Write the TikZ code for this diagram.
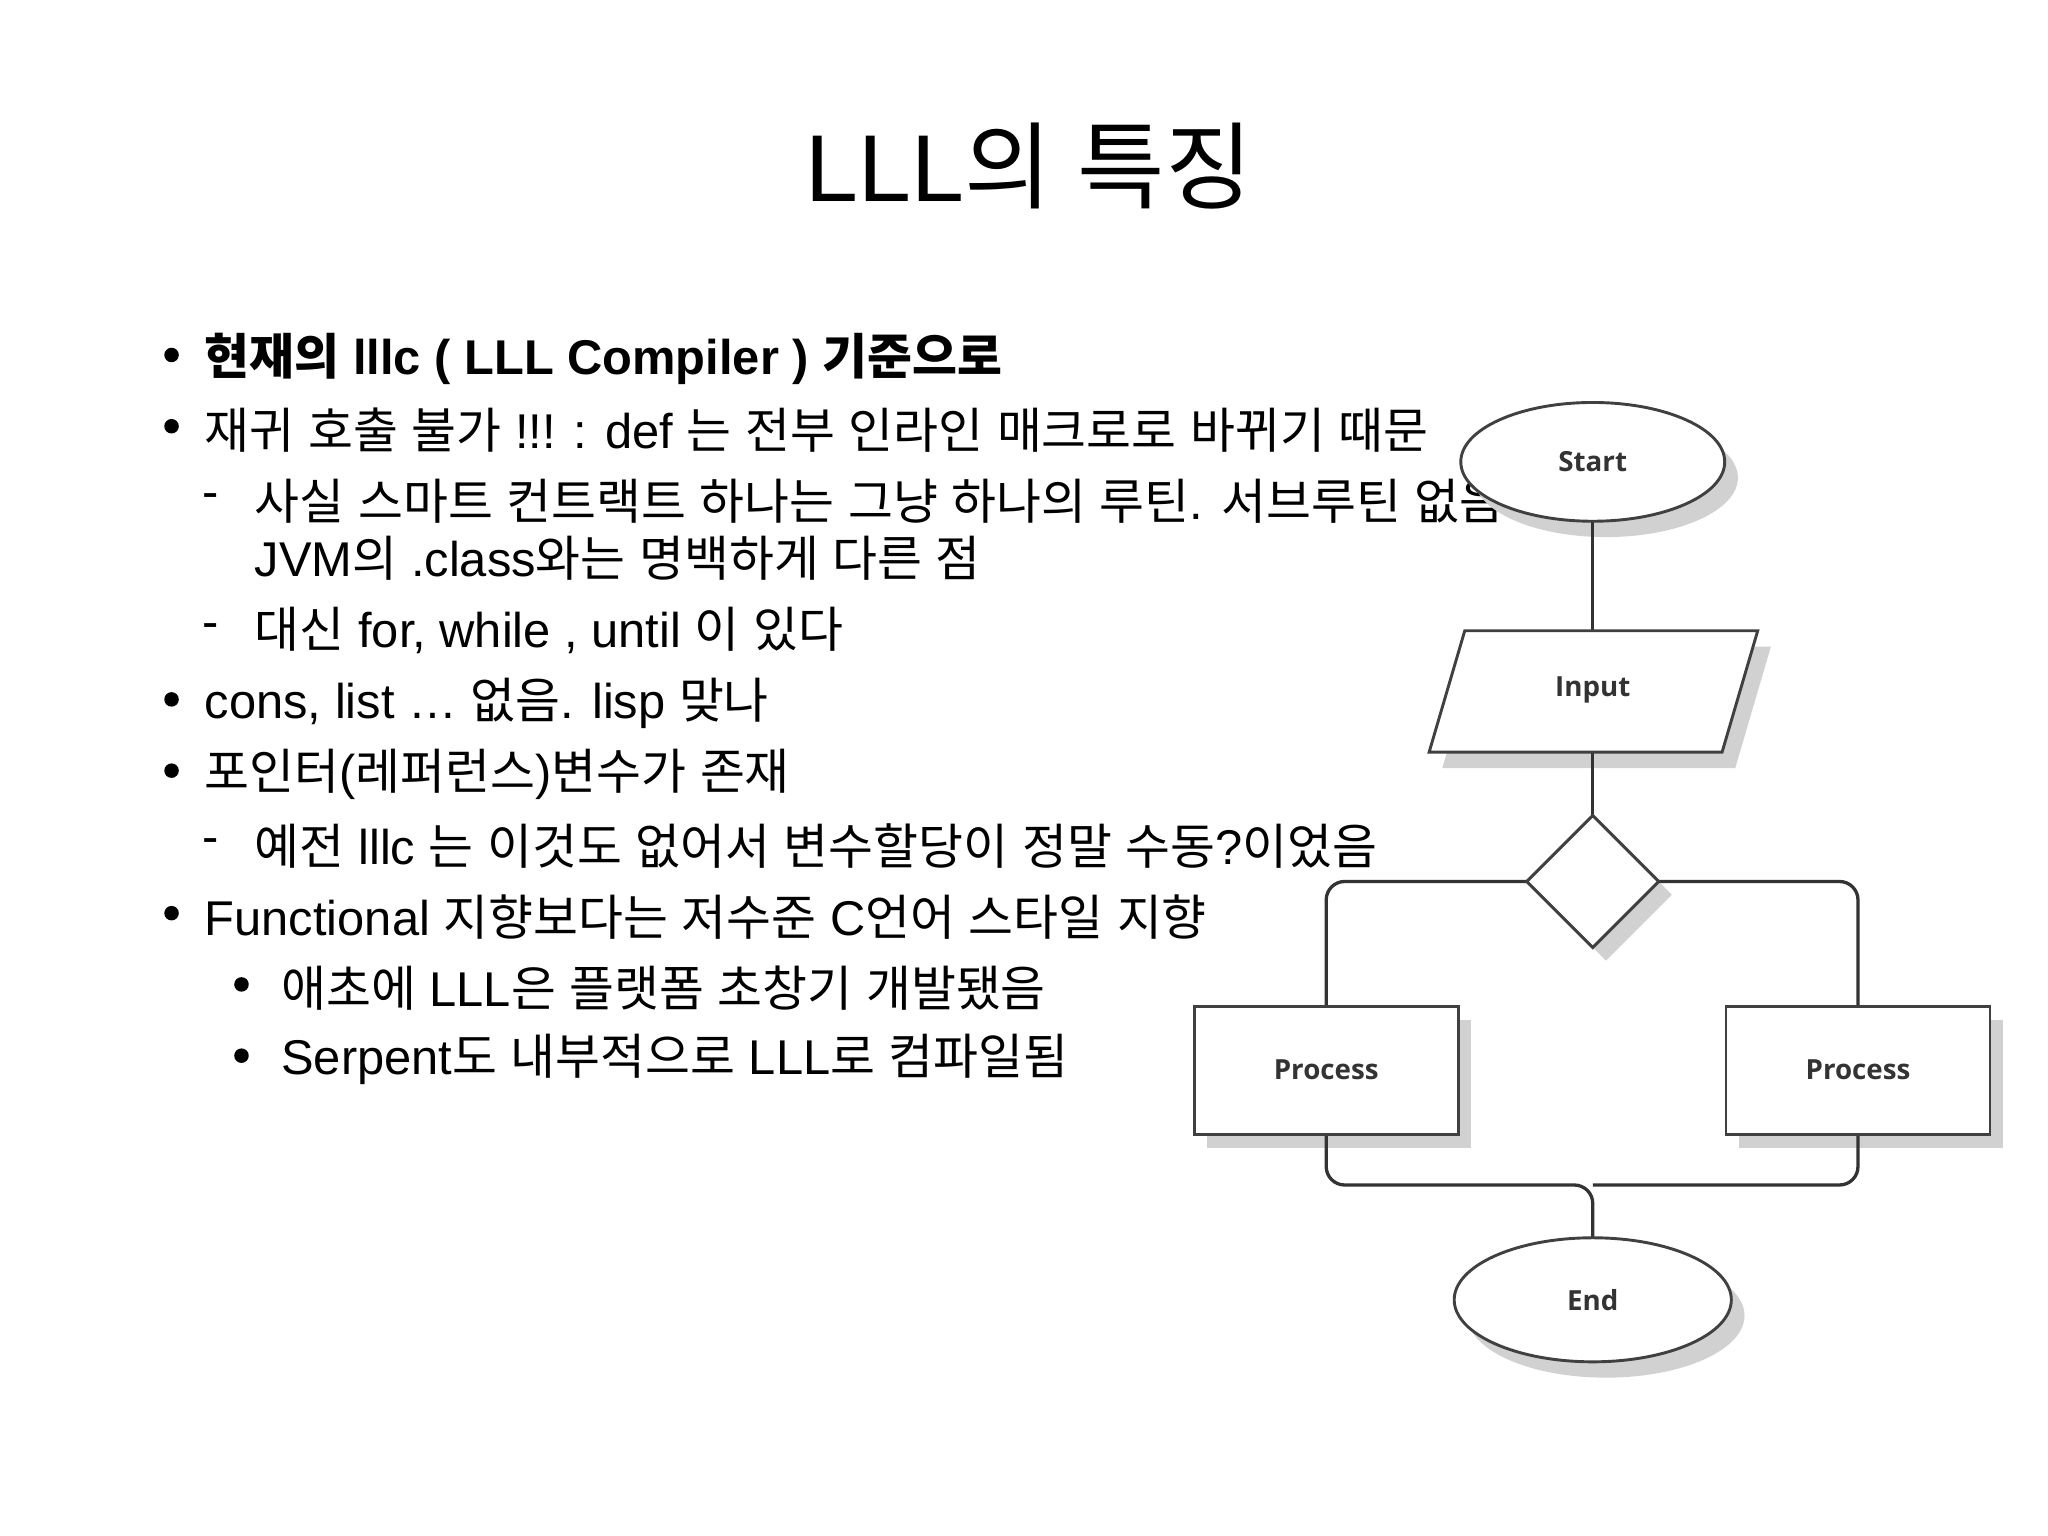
\documentclass[tikz,border=0pt]{standalone}
\usepackage{fontspec}
\setmainfont{Liberation Sans}
\newfontfamily\krfont{Noto Sans CJK KR}
\newfontfamily\fcfont{Open Sans}
\XeTeXinterchartokenstate=1
\newXeTeXintercharclass\krclass
\count255="AC00
\loop\ifnum\count255<"D7A4 \XeTeXcharclass\count255=\krclass \advance\count255 by 1 \repeat
\XeTeXinterchartoks 0 \krclass={\begingroup\krfont}
\XeTeXinterchartoks 4095 \krclass={\begingroup\krfont}
\XeTeXinterchartoks \krclass 0={\endgroup}
\XeTeXinterchartoks \krclass 4095={\endgroup}
\tikzset{
 body/.style={anchor=west,inner sep=0pt,font=\fontsize{37}{42}\selectfont},
 bul/.style={circle,fill=black,inner sep=0pt,minimum size=11pt},
 fc/.style={draw=black!75,line width=2.2pt,fill=white},
 fcshadow/.style={fill=black!18,draw=none},
 fctext/.style={font=\fcfont\bfseries\fontsize{21}{24}\selectfont,text=black!80},
 conn/.style={draw=black!80,line width=2.5pt,rounded corners=14pt}
}
\begin{document}
\begin{tikzpicture}[x=1pt,y=-1pt]
\useasboundingbox (0,0) rectangle (1552,1164);
\fill[white] (0,0) rectangle (1552,1164);
\node[font=\fontsize{72}{80}\selectfont] (title) at (780,126) {LLL의 특징};
% bullets
\node[bul] (b1) at (130,269) {}; \node[body,font=\bfseries\fontsize{37}{42}\selectfont] (t1) at (155,272) {현재의 lllc ( LLL Compiler ) 기준으로};
\node[bul] (b2) at (130,323) {}; \node[body] (t2) at (155,326) {재귀 호출 불가 !!! :  def 는 전부 인라인 매크로로 바뀌기 때문};
\node[body] (d1) at (153,380) {-}; \node[body] (t3) at (193,380) {사실 스마트 컨트랙트 하나는 그냥 하나의 루틴. 서브루틴 없음};
\node[body] (t4) at (193,423) {JVM의 .class와는 명백하게 다른 점};
\node[body] (d2) at (153,478) {-}; \node[body] (t5) at (193,478) {대신 for, while , until 이 있다};
\node[bul] (b3) at (130,530) {}; \node[body] (t6) at (155,533) {cons, list  … 없음. lisp 맞나};
\node[bul] (b4) at (130,584) {}; \node[body] (t7) at (155,587) {포인터(레퍼런스)변수가 존재};
\node[body] (d3) at (153,641) {-}; \node[body] (t8) at (193,641) {예전 lllc 는 이것도 없어서 변수할당이 정말 수동?이었음};
\node[bul] (b5) at (130,692) {}; \node[body] (t9) at (155,695) {Functional 지향보다는 저수준 C언어 스타일 지향};
\node[bul] (b6) at (183,746) {}; \node[body] (t10) at (213,749) {애초에 LLL은 플랫폼 초창기 개발됐음};
\node[bul] (b7) at (183,800) {}; \node[body] (t11) at (213,803) {Serpent도 내부적으로 LLL로 컴파일됨};
% flowchart shadows
\fill[fcshadow] (1217,362) ellipse (100 and 45);
\fill[fcshadow] (1120,490)--(1342,490)--(1315,582)--(1093,582)--cycle;
\fill[fcshadow] (1217,628)--(1267,678)--(1217,728)--(1167,678)--cycle;
\fill[fcshadow] (915,773) rectangle (1115,870);
\fill[fcshadow] (1318,773) rectangle (1518,870);
\fill[fcshadow] (1217,997) ellipse (105 and 47);
% coordinates
\coordinate (jl) at (1005,898); \coordinate (jr) at (1408,898); \coordinate (jm) at (1207,898);
% connectors
\draw[conn] (1207,395) -- (1207,478);
\draw[conn] (1207,570) -- (1207,618);
\draw[conn] (1157,668) -- (1005,668) -- (1005,763);
\draw[conn] (1257,668) -- (1408,668) -- (1408,763);
\draw[conn] (1005,860) -- (1005,898) -- (1207,898) -- (1207,938);
\draw[conn] (1408,860) -- (1408,898) -- (1207,898);
% nodes
\draw[fc] (1207,350) ellipse (100 and 45);
\node[fctext] (start) at (1207,350) {Start};
\draw[fc] (1110,478)--(1332,478)--(1305,570)--(1083,570)--cycle;
\node[fctext] (input) at (1207,523) {Input};
\draw[fc] (1207,618)--(1257,668)--(1207,718)--(1157,668)--cycle;
\coordinate (dec) at (1207,668);
\draw[fc] (905,763) rectangle (1105,860);
\node[fctext] (p1) at (1005,811) {Process};
\draw[fc] (1308,763) rectangle (1508,860);
\node[fctext] (p2) at (1408,811) {Process};
\draw[fc] (1207,985) ellipse (105 and 47);
\node[fctext] (end) at (1207,985) {End};
\end{tikzpicture}
\end{document}
